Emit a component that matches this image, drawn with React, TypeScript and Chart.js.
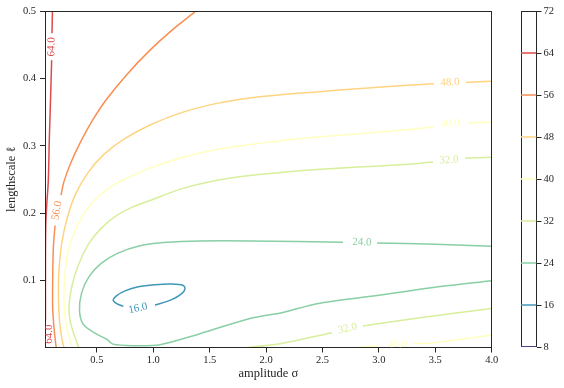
import React, { useEffect, useRef } from "react";
import { Chart, registerables } from "chart.js";

Chart.register(...registerables);

// ---------- data ----------
const X_MIN = 0.04;
const X_MAX = 4.0;
const Y_MIN = 0.001;
const Y_MAX = 0.5;
const X_TICKS = [0.5, 1.0, 1.5, 2.0, 2.5, 3.0, 3.5, 4.0];
const Y_TICKS = [0.1, 0.2, 0.3, 0.4, 0.5];
const CBAR_TICKS = [8, 16, 24, 32, 40, 48, 56, 64, 72];
const LEVELS = [8, 16, 24, 32, 40, 48, 56, 64];
const LEVEL_COLORS = ["#5e4fa2", "#3f97b7", "#89cfa5", "#d7ef9b", "#ffffbf", "#fed481", "#f98e52", "#dd4a4c"];

// contour level 64
const C64_A = [[0.106, 0.5], [0.102, 0.467]];
const C64_B = [[0.099, 0.427], [0.089, 0.368], [0.078, 0.308], [0.069, 0.247], [0.055, 0.212], [0.047, 0.182], [0.044, 0.13], [0.044, 0.041]];
// contour level 56
const C56_A = [[1.379, 0.5], [1.169, 0.472], [0.971, 0.442], [0.766, 0.406], [0.581, 0.368], [0.458, 0.337], [0.35, 0.304], [0.272, 0.276], [0.208, 0.247], [0.182, 0.227]];
const C56_B = [[0.129, 0.182], [0.114, 0.149], [0.108, 0.1], [0.108, 0.06], [0.12, 0.03], [0.137, 0.004], [0.142, 0]];
// contour level 48
const C48_A = [[4.0, 0.396], [3.772, 0.394]];
const C48_B = [[3.488, 0.392], [3.187, 0.389], [2.744, 0.384], [2.451, 0.38], [2.15, 0.376], [1.857, 0.371], [1.565, 0.363], [1.263, 0.35], [0.971, 0.331], [0.74, 0.31], [0.56, 0.287], [0.42, 0.26], [0.31, 0.228], [0.235, 0.192], [0.186, 0.153], [0.162, 0.11], [0.16, 0.07], [0.17, 0.038], [0.186, 0.018], [0.208, 0]];
// contour level 40
const C40_A = [[4.0, 0.335], [3.781, 0.334]];
const C40_B = [[3.48, 0.328], [3.187, 0.323], [2.744, 0.317], [2.451, 0.313], [2.15, 0.308], [1.857, 0.302], [1.565, 0.295], [1.263, 0.283], [0.971, 0.267], [0.8, 0.255], [0.65, 0.242], [0.52, 0.226], [0.42, 0.208], [0.34, 0.186], [0.28, 0.163], [0.24, 0.14], [0.217, 0.111], [0.208, 0.071], [0.226, 0.036], [0.277, 0.004], [0.284, 0]];
const C40_C = [[2.762, 0], [2.983, 0.0037]];
const C40_D = [[3.302, 0.0067], [3.453, 0.0074], [3.719, 0.013], [4.0, 0.0196]];
// contour level 32
const C32_A = [[4.0, 0.283], [3.763, 0.282]];
const C32_B = [[3.48, 0.276], [3.187, 0.272], [2.744, 0.268], [2.451, 0.265], [2.15, 0.261], [1.857, 0.256], [1.565, 0.249], [1.263, 0.237], [0.971, 0.219], [0.8, 0.208], [0.66, 0.195], [0.54, 0.178], [0.44, 0.158], [0.36, 0.133], [0.3, 0.106], [0.265, 0.08], [0.253, 0.06], [0.262, 0.041], [0.306, 0.016], [0.341, 0]];
const C32_C = [[1.733, 0], [1.857, 0.0015], [2.123, 0.0067], [2.584, 0.023]];
const C32_D = [[2.859, 0.033], [3.365, 0.045], [4.0, 0.059]];
// contour level 24
const C24_A = [[4.0, 0.151], [3.5, 0.154], [2.983, 0.156]];
const C24_B = [[2.682, 0.157], [1.857, 0.159], [1.414, 0.159], [1.118, 0.157], [0.882, 0.152], [0.687, 0.141], [0.54, 0.126], [0.43, 0.106], [0.365, 0.082], [0.346, 0.056], [0.377, 0.036], [0.474, 0.023], [0.59, 0.013], [0.643, 0.006], [0.82, 0.0037], [1.059, 0.0052], [1.414, 0.0215], [1.857, 0.044], [2.15, 0.053], [2.451, 0.066], [2.983, 0.078], [3.48, 0.09], [4.0, 0.1]];
// contour level 16
const C16_A = [[1.015, 0.064], [1.163, 0.072], [1.252, 0.081], [1.281, 0.088], [1.266, 0.093], [1.163, 0.095], [1.015, 0.094], [0.867, 0.091], [0.749, 0.085], [0.676, 0.078], [0.645, 0.071], [0.676, 0.066], [0.734, 0.062]];

const SEGMENTS = [
  { level: 64, pts: C64_A }, { level: 64, pts: C64_B },
  { level: 56, pts: C56_A }, { level: 56, pts: C56_B },
  { level: 48, pts: C48_A }, { level: 48, pts: C48_B },
  { level: 40, pts: C40_A }, { level: 40, pts: C40_B }, { level: 40, pts: C40_C }, { level: 40, pts: C40_D },
  { level: 32, pts: C32_A }, { level: 32, pts: C32_B }, { level: 32, pts: C32_C }, { level: 32, pts: C32_D },
  { level: 24, pts: C24_A }, { level: 24, pts: C24_B },
  { level: 16, pts: C16_A },
];

// inline contour labels: level, x, y, rotation (deg)
const LABEL_LEVELS = [64, 64, 56, 48, 40, 32, 24, 16, 32, 40];
const LABEL_X = [0.0975, 0.075, 0.146, 3.63, 3.63, 3.621, 2.85, 0.864, 2.722, 3.165];
const LABEL_Y = [0.447, 0.021, 0.204, 0.394, 0.333, 0.279, 0.157, 0.059, 0.029, 0.006];
const LABEL_ROT = [-89, -90, -79, -2, -3, -3, 1, -12, -13, -1];

// ---------- styling ----------
const FONT = "'Liberation Serif', 'DejaVu Serif', serif";
const INK = "#262626";

const colorOf = (lv: number) => LEVEL_COLORS[LEVELS.indexOf(lv)];

const spinePlugin = {
  id: "spines",
  afterDatasetsDraw(chart: any) {
    const { ctx, chartArea: a } = chart;
    const l = Math.round(a.left) + 0.5;
    const r = Math.round(a.right) - 0.5;
    const t = Math.round(a.top) + 0.5;
    const b = Math.round(a.bottom) - 0.5;
    ctx.save();
    ctx.strokeStyle = INK;
    ctx.lineWidth = 1;
    ctx.strokeRect(l, t, r - l, b - t);
    ctx.restore();
  },
};

const clabelPlugin = {
  id: "clabels",
  afterDatasetsDraw(chart: any) {
    const { ctx } = chart;
    const xs = chart.scales.x;
    const ys = chart.scales.y;
    ctx.save();
    ctx.font = `11px ${FONT}`;
    ctx.textAlign = "center";
    ctx.textBaseline = "middle";
    LABEL_LEVELS.forEach((lv, i) => {
      const px = xs.getPixelForValue(LABEL_X[i]);
      const py = ys.getPixelForValue(LABEL_Y[i]);
      ctx.save();
      ctx.translate(px, py);
      ctx.rotate((LABEL_ROT[i] * Math.PI) / 180);
      ctx.fillStyle = colorOf(lv);
      ctx.fillText(lv.toFixed(1), 0, 0);
      ctx.restore();
    });
    ctx.restore();
  },
};

const cbarBoxPlugin = {
  id: "cbarBox",
  beforeDatasetsDraw(chart: any) {
    const { ctx, chartArea: a } = chart;
    const l = Math.round(a.left) + 0.5;
    const r = Math.round(a.right) - 0.5;
    const t = Math.round(a.top) + 0.5;
    const b = Math.round(a.bottom) - 0.5;
    ctx.save();
    ctx.strokeStyle = INK;
    ctx.lineWidth = 1;
    ctx.strokeRect(l, t, r - l, b - t);
    ctx.restore();
  },
};

function mainConfig(): any {
  const datasets = SEGMENTS.map((s) => ({
    data: s.pts.map(([x, y]) => ({ x, y })),
    showLine: true,
    borderColor: colorOf(s.level),
    borderWidth: 1.5,
    pointRadius: 0,
    tension: 0.3,
    fill: false,
  }));
  const tickFont = { family: FONT, size: 10.5 };
  return {
    type: "scatter",
    data: { datasets },
    options: {
      animation: false,
      responsive: false,
      maintainAspectRatio: false,
      layout: { padding: { top: 11, right: 8.3, left: 0, bottom: 0 } },
      plugins: { legend: { display: false }, tooltip: { enabled: false } },
      scales: {
        x: {
          type: "linear",
          min: X_MIN,
          max: X_MAX,
          afterBuildTicks: (s: any) => { s.ticks = X_TICKS.map((v) => ({ value: v })); },
          afterFit: (s: any) => { s.height = 40.5; },
          ticks: { font: tickFont, color: INK, padding: 1, maxRotation: 0, autoSkip: false, callback: (v: any) => Number(v).toFixed(1) },
          grid: { display: true, drawOnChartArea: false, drawTicks: true, tickLength: 5, color: INK, lineWidth: 1 },
          border: { display: false },
          title: { display: true, text: "amplitude σ", color: INK, font: { family: FONT, size: 12.5 }, padding: { top: 0, bottom: 6.5 } },
        },
        y: {
          type: "linear",
          min: Y_MIN,
          max: Y_MAX,
          afterBuildTicks: (s: any) => { s.ticks = Y_TICKS.map((v) => ({ value: v })); },
          afterFit: (s: any) => { s.width = 45; },
          ticks: { font: tickFont, color: INK, padding: 4, autoSkip: false, callback: (v: any) => Number(v).toFixed(1) },
          grid: { display: true, drawOnChartArea: false, drawTicks: true, tickLength: 5, color: INK, lineWidth: 1 },
          border: { display: false },
          title: { display: true, text: "lengthscale ℓ", color: INK, font: { family: FONT, size: 12.5 }, padding: { top: 4.5, bottom: 0 } },
        },
      },
    },
    plugins: [spinePlugin, clabelPlugin],
  };
}

function barConfig(): any {
  const datasets = LEVELS.map((lv, i) => ({
    data: [{ x: 0, y: lv }, { x: 1, y: lv }],
    showLine: true,
    borderColor: LEVEL_COLORS[i],
    borderWidth: 1.5,
    pointRadius: 0,
    fill: false,
  }));
  return {
    type: "scatter",
    data: { datasets },
    options: {
      animation: false,
      responsive: false,
      maintainAspectRatio: false,
      layout: { padding: { left: 21, top: 11, bottom: 41, right: 0 } },
      plugins: { legend: { display: false }, tooltip: { enabled: false } },
      scales: {
        x: { type: "linear", min: 0, max: 1, display: false },
        y: {
          type: "linear",
          position: "right",
          min: 8,
          max: 72,
          afterBuildTicks: (s: any) => { s.ticks = CBAR_TICKS.map((v) => ({ value: v })); },
          afterFit: (s: any) => { s.width = 27.5; },
          ticks: { font: { family: FONT, size: 10.5 }, color: INK, padding: 2, autoSkip: false },
          grid: { display: true, drawOnChartArea: false, drawTicks: true, tickLength: 5, color: INK, lineWidth: 1 },
          border: { display: false },
        },
      },
    },
    plugins: [cbarBoxPlugin],
  };
}

export default function App() {
  const mainRef = useRef<HTMLCanvasElement>(null);
  const barRef = useRef<HTMLCanvasElement>(null);
  useEffect(() => {
    const main = new Chart(mainRef.current as HTMLCanvasElement, mainConfig());
    const bar = new Chart(barRef.current as HTMLCanvasElement, barConfig());
    return () => {
      main.destroy();
      bar.destroy();
    };
  }, []);
  return (
    <div style={{ position: "fixed", left: 0, top: 0, width: 564, height: 388, background: "#fff" }}>
      <canvas ref={mainRef} width={500} height={388} style={{ position: "absolute", left: 0, top: 0, width: 500, height: 388 }} />
      <canvas ref={barRef} width={64} height={388} style={{ position: "absolute", left: 500, top: 0, width: 64, height: 388 }} />
    </div>
  );
}
